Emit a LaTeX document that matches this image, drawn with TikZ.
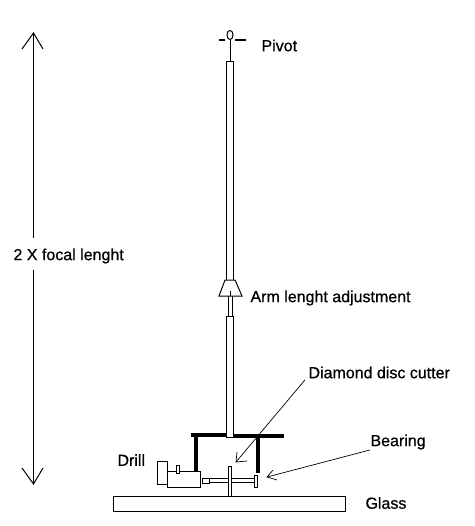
\documentclass[tikz,border=0pt]{standalone}
\usepackage{fontspec}
\setmainfont{Liberation Sans}
\newfontfamily\lblfont{Liberation Sans}[FakeBold=0.7]
\begin{document}
\begin{tikzpicture}[x=1pt,y=-1pt,
  line width=1pt,
  lbl/.style={inner sep=0pt,anchor=west,font=\lblfont\fontsize{16}{18}\selectfont,text=black},
  part/.style={draw=black,fill=white,line width=1pt},
  frame/.style={draw=black,line width=4pt},
  bar/.style={draw=black,line width=2pt},
  leader/.style={draw=black,line width=0.7pt}]
\useasboundingbox[fill=white] (0,0) rectangle (474,526);
% dimension arrow, broken around its label
\coordinate (dimtop) at (33.5,33);
\coordinate (dimbot) at (33.5,484);
\coordinate (gaptop) at (33.5,238);
\coordinate (gapbot) at (33.5,270);
\draw (dimtop) -- (gaptop);
\draw (gapbot) -- (dimbot);
\draw (22,49) -- (dimtop) -- (43,49);
\draw (22,468) -- (dimbot) -- (43,468);
\node[lbl] (focal) at (13,256) {2 X focal lenght};
% glass
\node[part,minimum width=232pt,minimum height=15pt,inner sep=0pt] (glass) at (229,504) {};
% arm
\draw[part] (226,62) rectangle (233.5,280);
\draw[part] (228.5,291) rectangle (232,316);
\draw[part] (225,280) -- (235,280) -- (242,296) -- (219,296) -- cycle;
\draw (230.2,291) -- (230.2,296);
\draw[part] (226,316) rectangle (233.5,437);
% pivot
\draw (230,40) -- (230,62);
\draw[bar] (219,40) -- (225,40);
\draw[bar] (235,40) -- (246,40);
\draw[part] (230,35) ellipse [x radius=3,y radius=4.6];
% frame
\draw[frame] (191,435) -- (226,435);
\draw[frame] (233.5,436) -- (284,436);
\draw[frame] (196,435) -- (196,471);
\draw[frame] (258,436) -- (258,473);
% drill
\draw[part] (157.5,461) rectangle (167,484.5);
\draw[part] (167.5,471.5) rectangle (200.5,487.5);
\draw[part] (176.3,465) rectangle (179,473);
\draw[part] (202.5,478) rectangle (209.5,483.5);
\draw[part] (209.5,478.5) rectangle (254.5,482);
\draw[part] (228,466.5) rectangle (231,496);
\draw[part] (254.5,475.5) rectangle (257.5,487.5);
% labels
\node[lbl] (pivot) at (261,45.5) {Pivot};
\node[lbl] (arm) at (250,298) {Arm lenght adjustment};
\node[lbl] (diamond) at (308,372.5) {Diamond disc cutter};
\node[lbl] (bearing) at (370,442) {Bearing};
\node[lbl] (drill) at (117,460) {Drill};
\node[lbl] (glasstxt) at (365,503) {Glass};
% leaders
\coordinate (dtip) at (236,462);
\coordinate (btip) at (267,477);
\draw[leader] (diamond.south west) ++(-3,1) -- (dtip);
\draw[leader] (237,452) -- (dtip) -- (247,461);
\draw[leader] (bearing.south west) -- (btip);
\draw[leader] (273,470) -- (btip) -- (277,480);
\end{tikzpicture}
\end{document}
